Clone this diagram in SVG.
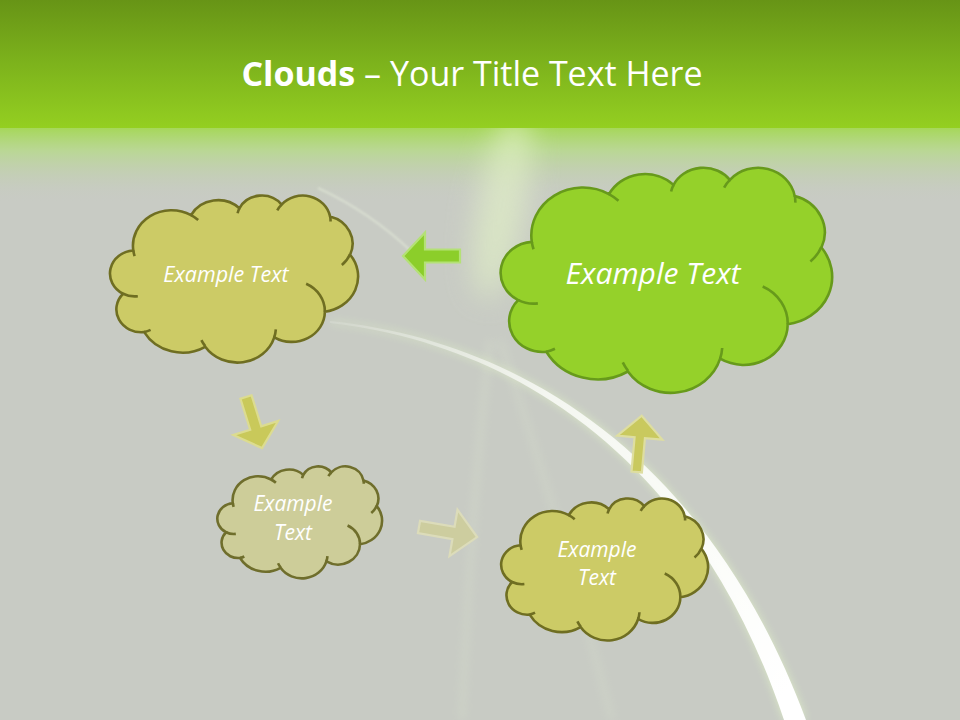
<svg xmlns="http://www.w3.org/2000/svg" xmlns:xlink="http://www.w3.org/1999/xlink" width="960" height="720" viewBox="0 0 960 720">
<style>
.ttl{font-family:"Open Sans","Liberation Sans",sans-serif;font-size:34px;fill:#ffffff}
.lbl{font-family:"Open Sans","Liberation Sans",sans-serif;font-style:italic;fill:#ffffff;text-anchor:middle}
.olive{fill:#cccb66;stroke:#6f6e22;stroke-width:2.6}
.pale{fill:#cdcd99;stroke:#6f6e2c;stroke-width:2.6}
.lime{fill:#95d12a;stroke:#679a1b;stroke-width:2.6}
.inner{fill:none}
.arr{stroke-width:2.2;stroke-linejoin:miter}
</style>
<defs>
<linearGradient id="topBand" x1="0" y1="0" x2="0" y2="1">
<stop offset="0" stop-color="#679416"/>
<stop offset="0.5" stop-color="#7db31c"/>
<stop offset="1" stop-color="#94cf21"/>
</linearGradient>
<linearGradient id="fade" x1="0" y1="0" x2="0" y2="1">
<stop offset="0" stop-color="#a6d75a" stop-opacity="1"/>
<stop offset="0.3" stop-color="#b6da88" stop-opacity="0.8"/>
<stop offset="1" stop-color="#c8cbc4" stop-opacity="0"/>
</linearGradient>
<linearGradient id="streak" gradientUnits="userSpaceOnUse" x1="340" y1="320" x2="780" y2="700">
<stop offset="0" stop-color="#ffffff" stop-opacity="0.15"/>
<stop offset="0.35" stop-color="#ffffff" stop-opacity="0.75"/>
<stop offset="1" stop-color="#ffffff" stop-opacity="1"/>
</linearGradient>
<filter id="blur14" x="-150%" y="-50%" width="400%" height="200%"><feGaussianBlur stdDeviation="14"/></filter>
<filter id="blur4" x="-50%" y="-50%" width="200%" height="200%"><feGaussianBlur stdDeviation="4"/></filter>
<filter id="blur1" x="-50%" y="-50%" width="200%" height="200%"><feGaussianBlur stdDeviation="1"/></filter>
<path id="cloudShape" vector-effect="non-scaling-stroke" d="M3900 14370 A6753 9190 0 0 1 14005 5202 A5333 7267 0 0 1 22457 3431 A4365 5945 0 0 1 29834 2480 A4857 6595 0 0 1 38319 5575 A5333 7273 0 0 1 41819 15459 A6775 9220 0 0 1 37404 30201 A5785 7867 0 0 1 28555 36811 A6752 9215 0 0 1 16480 39263 A7720 10543 0 0 1 5806 35469 A4360 5918 0 0 1 2115 25546 A4345 5945 0 0 1 3900 14370 Z"/>
<path id="cloudInner" vector-effect="non-scaling-stroke" fill="none" d="M4693 26177 A4345 5945 0 0 1 2115 25546 M6928 34899 A4360 5918 0 0 1 5806 35469 M16478 39090 A6752 9215 0 0 1 15812 37523 M28827 34751 A6752 9215 0 0 1 28555 36811 M34129 22954 A5785 7867 0 0 1 37404 30201 M41798 15354 A5333 7273 0 0 1 40372 18135 M38324 5426 A4857 6595 0 0 1 38396 6839 M29078 3952 A4857 6595 0 0 1 29834 2480 M22141 4720 A4365 5945 0 0 1 22457 3431 M14005 5202 A6753 9190 0 0 1 15250 6478 M4127 15789 A6753 9190 0 0 1 3900 14370"/>
</defs>

<g id="background">
<rect x="0" y="0" width="960" height="720" fill="#c8cbc4"/>
<rect x="0" y="128" width="960" height="75" fill="url(#fade)"/>
<ellipse cx="502" cy="205" rx="24" ry="95" fill="#e2f2c6" opacity="0.65" transform="rotate(10 502 205)" filter="url(#blur14)"/>
<path d="M490 340 Q470 520 462 720" fill="none" stroke="#e4f0d4" stroke-width="6" opacity="0.22" filter="url(#blur4)"/>
<path d="M500 340 Q560 520 612 720" fill="none" stroke="#e4f0d4" stroke-width="6" opacity="0.2" filter="url(#blur4)"/>
<path d="M318 188 Q370 212 412 252" fill="none" stroke="#eef6e2" stroke-width="2" opacity="0.45" filter="url(#blur1)"/>
<path d="M330 321 C542 343 716 478 806 720 L784 720 C704 482 538 347 330 323 Z" fill="#e2f3c8" opacity="0.8" filter="url(#blur4)"/>
<path d="M330 321 C542 343 716 478 806 720 L784 720 C704 482 538 347 330 323 Z" fill="url(#streak)"/>
<rect x="0" y="0" width="960" height="128" fill="url(#topBand)"/>
</g>

<g id="title">
<text class="ttl" x="472" y="86" text-anchor="middle"><tspan font-weight="bold">Clouds</tspan> – Your Title Text Here</text>
</g>

<g id="connectors">
<polygon class="arr" fill="#8cce2a" stroke="#b4e176" transform="translate(460,256) rotate(180)" points="0,-6.5 35,-6.5 35,-23.5 57,0 35,23.5 35,6.5 0,6.5"/>
<polygon class="arr" fill="#c9c95a" stroke="#dcdc90" transform="translate(246,397) rotate(72.6)" points="0,-5.8 32.5,-5.8 32.5,-23.5 53.5,0 32.5,23.5 32.5,5.8 0,5.8"/>
<polygon class="arr" fill="#cdcd9f" stroke="#dcdcba" transform="translate(419,527) rotate(9.8)" points="0,-6.3 35,-6.3 35,-23.6 59,0 35,23.6 35,6.3 0,6.3"/>
<polygon class="arr" fill="#c9c95e" stroke="#dedea0" transform="translate(636.7,472) rotate(-84.9)" points="0,-5.2 34.5,-5.2 34.5,-22.6 56.5,0 34.5,22.6 34.5,5.2 0,5.2"/>
</g>

<g id="cloud-top-left">
<g transform="translate(111,195) scale(0.0057176,0.0038657)">
<use href="#cloudShape" class="olive"/>
<use href="#cloudInner" class="olive inner"/>
</g>
<text class="lbl" x="226" y="282" font-size="21.5">Example Text</text>
</g>

<g id="cloud-top-right">
<g transform="translate(502,167) scale(0.0076389,0.0052083)">
<use href="#cloudShape" class="lime"/>
<use href="#cloudInner" class="lime inner"/>
</g>
<text class="lbl" x="653" y="284" font-size="30">Example Text</text>
</g>

<g id="cloud-middle-left">
<g transform="translate(218,466) scale(0.0037963,0.0025926)">
<use href="#cloudShape" class="pale"/>
<use href="#cloudInner" class="pale inner"/>
</g>
<text class="lbl" x="293" y="511" font-size="21">Example</text>
<text class="lbl" x="293" y="540" font-size="21">Text</text>
</g>

<g id="cloud-bottom-right">
<g transform="translate(502,498) scale(0.0047685,0.0032870)">
<use href="#cloudShape" class="olive"/>
<use href="#cloudInner" class="olive inner"/>
</g>
<text class="lbl" x="597" y="557" font-size="21">Example</text>
<text class="lbl" x="597" y="585" font-size="21">Text</text>
</g>
</svg>
